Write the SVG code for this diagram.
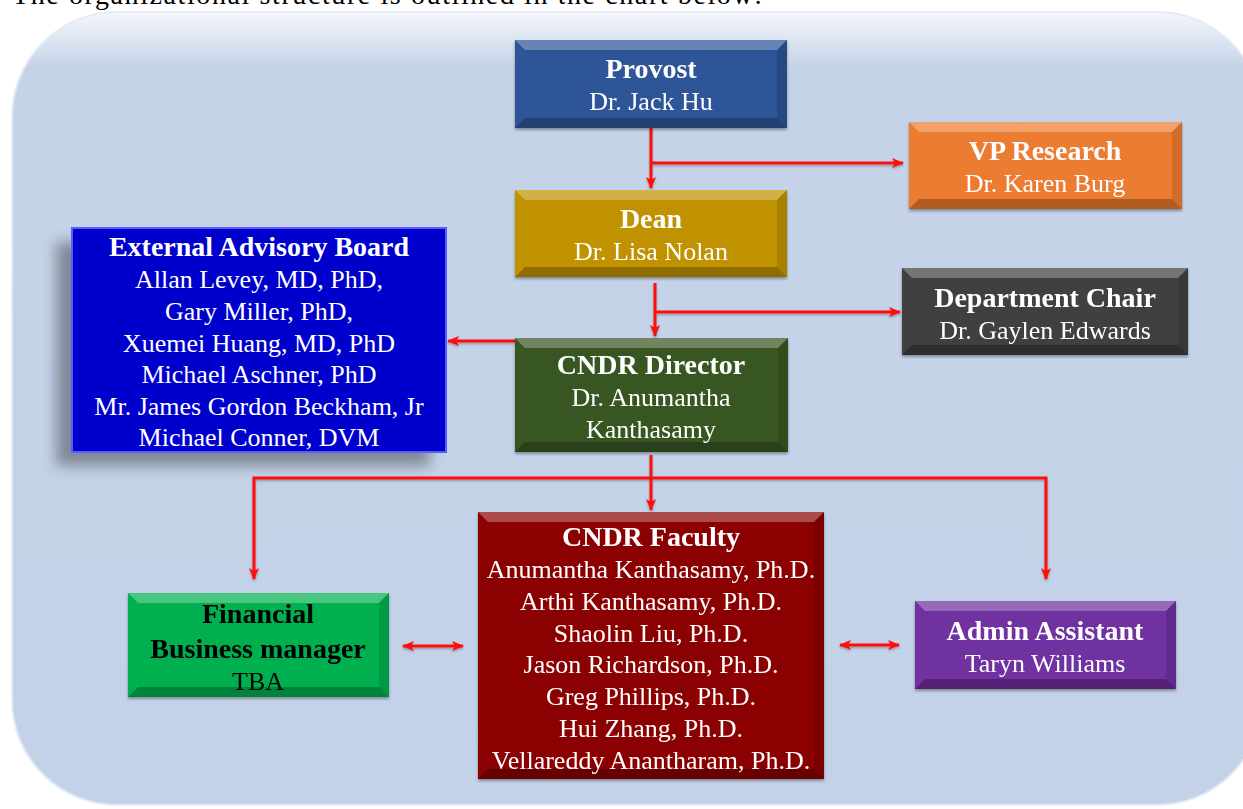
<svg xmlns="http://www.w3.org/2000/svg" width="1243" height="809" viewBox="0 0 1243 809">
<style>
.t{font-family:"Liberation Serif","Times New Roman",serif;font-size:26px;fill:#fff;text-anchor:middle}
.b{font-weight:bold;font-size:28px}
.k{fill:#000}
.ln{fill:none;stroke:#ff1010;stroke-width:3}
.bt{fill:#fff;opacity:.28}
.bs{fill:#000;opacity:.12}
.bb{fill:#000;opacity:.25}
.node{filter:url(#ns)}
</style>
<defs>
<linearGradient id="bg" x1="0" y1="0" x2="0" y2="1">
<stop offset="0" stop-color="#f4f7fb"/>
<stop offset="0.07" stop-color="#c5d3e8"/>
<stop offset="1" stop-color="#c3d2e8"/>
</linearGradient>
<filter id="ns" x="-10%" y="-10%" width="120%" height="130%">
<feDropShadow dx="0" dy="2" stdDeviation="1.5" flood-color="#000" flood-opacity="0.35"/>
</filter>
<filter id="ebs" x="-20%" y="-20%" width="140%" height="140%">
<feGaussianBlur stdDeviation="7"/>
</filter>
<filter id="ls" filterUnits="userSpaceOnUse" x="0" y="0" width="1243" height="809">
<feDropShadow dx="0" dy="1.5" stdDeviation="1" flood-color="#000" flood-opacity="0.3"/>
</filter>
<marker id="ah" markerWidth="12" markerHeight="10" refX="11" refY="5" orient="auto" markerUnits="userSpaceOnUse">
<path d="M0,0 L12,5 L0,10 L3,5 Z" fill="#ff1010"/>
</marker>
<marker id="as" markerWidth="12" markerHeight="10" refX="1" refY="5" orient="auto" markerUnits="userSpaceOnUse">
<path d="M12,0 L0,5 L12,10 L9,5 Z" fill="#ff1010"/>
</marker>
</defs>
<rect width="1243" height="809" fill="#fff"/>
<text x="12" y="4" font-family="Liberation Serif, serif" font-size="28" fill="#000" textLength="750">The organizational structure is outlined in the chart below:</text>
<rect x="12" y="12" width="1250" height="793" rx="105" ry="105" fill="url(#bg)" stroke="#e4ebf5" stroke-width="2"/>

<g id="connectors" filter="url(#ls)">
<path class="ln" d="M651,128 V188" marker-end="url(#ah)"/>
<path class="ln" d="M651,163 H903" marker-end="url(#ah)"/>
<path class="ln" d="M655,283 V336" marker-end="url(#ah)"/>
<path class="ln" d="M655,312 H900" marker-end="url(#ah)"/>
<path class="ln" d="M515,341 H448" marker-end="url(#ah)"/>
<path class="ln" d="M651,455 V510" marker-end="url(#ah)"/>
<path class="ln" d="M651,478 H254 V579" marker-end="url(#ah)"/>
<path class="ln" d="M651,478 H1046 V579" marker-end="url(#ah)"/>
<path class="ln" d="M403,646 H463" marker-start="url(#as)" marker-end="url(#ah)"/>
<path class="ln" d="M840,645 H899" marker-start="url(#as)" marker-end="url(#ah)"/>
</g>

<g id="provost" class="node">
<rect x="515" y="40" width="272" height="88" fill="#2e5597"/>
<polygon class="bt" points="515,40 787,40 777,50 525,50"/>
<polygon class="bb" points="515,128 787,128 777,118 525,118"/>
<polygon class="bs" points="787,40 787,128 777,118 777,50"/>
<text class="t b" x="651" y="78">Provost</text>
<text class="t" x="651" y="110">Dr. Jack Hu</text>
</g>

<g id="vp-research" class="node">
<rect x="909" y="122" width="273" height="87" fill="#ec7c30"/>
<polygon class="bt" points="909,122 1182,122 1172,132 919,132"/>
<polygon class="bb" points="909,209 1182,209 1172,199 919,199"/>
<polygon class="bs" points="1182,122 1182,209 1172,199 1172,132"/>
<text class="t b" x="1045" y="160">VP Research</text>
<text class="t" x="1045" y="192">Dr. Karen Burg</text>
</g>

<g id="dean" class="node">
<rect x="515" y="190" width="272" height="87" fill="#c09200"/>
<polygon class="bt" points="515,190 787,190 777,200 525,200"/>
<polygon class="bb" points="515,277 787,277 777,267 525,267"/>
<polygon class="bs" points="787,190 787,277 777,267 777,200"/>
<text class="t b" x="651" y="228">Dean</text>
<text class="t" x="651" y="260">Dr. Lisa Nolan</text>
</g>

<g id="department-chair" class="node">
<rect x="902" y="268" width="286" height="87" fill="#3f3f3f"/>
<polygon class="bt" points="902,268 1188,268 1178,278 912,278"/>
<polygon class="bb" points="902,355 1188,355 1178,345 912,345"/>
<polygon class="bs" points="1188,268 1188,355 1178,345 1178,278"/>
<text class="t b" x="1045" y="307">Department Chair</text>
<text class="t" x="1045" y="339">Dr. Gaylen Edwards</text>
</g>

<g id="external-advisory-board">
<rect x="56" y="242" width="374" height="224" fill="#000" opacity="0.35" filter="url(#ebs)"/>
<rect x="72" y="228" width="374" height="224" fill="#0000cc" stroke="#5a5aff" stroke-width="2"/>
<text class="t b" x="259" y="256">External Advisory Board</text>
<text class="t" x="259" y="288">Allan Levey, MD, PhD,</text>
<text class="t" x="259" y="320">Gary Miller, PhD,</text>
<text class="t" x="259" y="352">Xuemei Huang, MD, PhD</text>
<text class="t" x="259" y="383">Michael Aschner, PhD</text>
<text class="t" x="259" y="415">Mr. James Gordon Beckham, Jr</text>
<text class="t" x="259" y="446">Michael Conner, DVM</text>
</g>

<g id="cndr-director" class="node">
<rect x="515" y="338" width="273" height="114" fill="#385723"/>
<polygon class="bt" points="515,338 788,338 778,348 525,348"/>
<polygon class="bb" points="515,452 788,452 778,442 525,442"/>
<polygon class="bs" points="788,338 788,452 778,442 778,348"/>
<text class="t b" x="651" y="374">CNDR Director</text>
<text class="t" x="651" y="406">Dr. Anumantha</text>
<text class="t" x="651" y="438">Kanthasamy</text>
</g>

<g id="cndr-faculty" class="node">
<rect x="478" y="512" width="346" height="267" fill="#8b0606"/>
<polygon class="bt" points="478,512 824,512 814,522 488,522"/>
<polygon class="bb" points="478,779 824,779 814,769 488,769"/>
<polygon class="bs" points="824,512 824,779 814,769 814,522"/>
<text class="t b" x="651" y="546">CNDR Faculty</text>
<text class="t" x="651" y="578">Anumantha Kanthasamy, Ph.D.</text>
<text class="t" x="651" y="610">Arthi Kanthasamy, Ph.D.</text>
<text class="t" x="651" y="642">Shaolin Liu, Ph.D.</text>
<text class="t" x="651" y="673">Jason Richardson, Ph.D.</text>
<text class="t" x="651" y="705">Greg Phillips, Ph.D.</text>
<text class="t" x="651" y="737">Hui Zhang, Ph.D.</text>
<text class="t" x="651" y="769">Vellareddy Anantharam, Ph.D.</text>
</g>

<g id="financial-business-manager" class="node">
<rect x="128" y="593" width="261" height="104" fill="#00b050"/>
<polygon class="bt" points="128,593 389,593 379,603 138,603"/>
<polygon class="bb" points="128,697 389,697 379,687 138,687"/>
<polygon class="bs" points="389,593 389,697 379,687 379,603"/>
<text class="t b k" x="258" y="623">Financial</text>
<text class="t b k" x="258" y="658">Business manager</text>
<text class="t k" x="258" y="690">TBA</text>
</g>

<g id="admin-assistant" class="node">
<rect x="915" y="601" width="261" height="88" fill="#7030a0"/>
<polygon class="bt" points="915,601 1176,601 1166,611 925,611"/>
<polygon class="bb" points="915,689 1176,689 1166,679 925,679"/>
<polygon class="bs" points="1176,601 1176,689 1166,679 1166,611"/>
<text class="t b" x="1045" y="640">Admin Assistant</text>
<text class="t" x="1045" y="672">Taryn Williams</text>
</g>
</svg>
